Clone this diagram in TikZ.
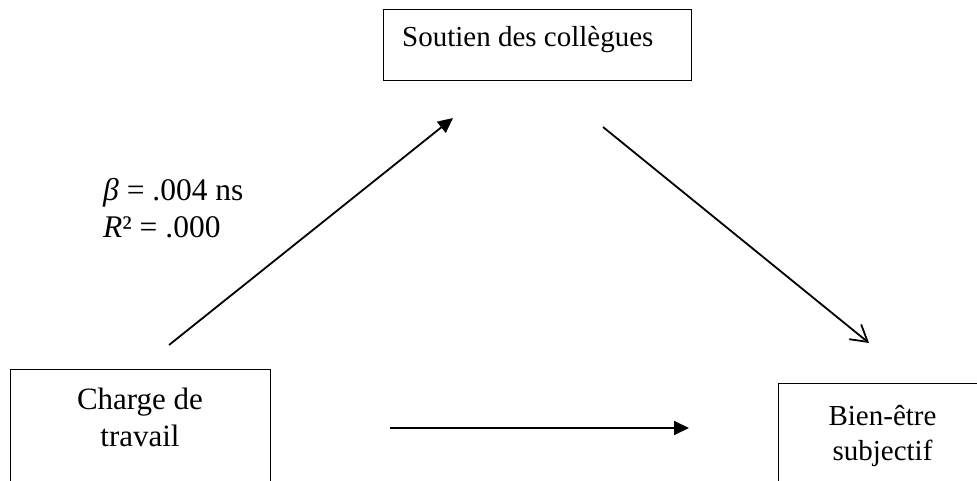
\documentclass[tikz,border=0pt]{standalone}
\usepackage{fontspec}
\setmainfont{Liberation Serif}
\usetikzlibrary{arrows.meta}
\begin{document}
\begin{tikzpicture}[x=1pt,y=-1pt,
  box/.style={draw, line width=1.3pt, rectangle, inner sep=0pt},
  lbl/.style={inner sep=0pt, font=\fontsize{29}{36}\selectfont},
  lblbig/.style={inner sep=0pt, font=\fontsize{31}{37}\selectfont},
  stat/.style={inner sep=0pt, font=\fontsize{31.5}{37}\selectfont},
  conn/.style={line width=1.8pt},
  filled/.style={conn, -{Triangle[length=15pt,width=14pt]}},
  openh/.style={conn, -{Straight Barb[length=16pt,width=19pt]}}]
\useasboundingbox (0,0) rectangle (977,481);
\clip (0,0) rectangle (977,481);
% boxes
\node[box, minimum width=308pt, minimum height=71pt, anchor=north west] (top) at (383,9) {};
\node[box, minimum width=260pt, minimum height=160pt, anchor=north west] (left) at (10,369) {};
\node[box, minimum width=300pt, minimum height=160pt, anchor=north west] (right) at (778,383) {};
% texts
\node[lbl, anchor=base west] (toptxt) at (402,47) {Soutien des collègues};
\node[lblbig, anchor=base] (lefttxt1) at (140,409) {Charge de};
\node[lblbig, anchor=base] (lefttxt2) at (140,446) {travail};
\node[lbl, anchor=base] (righttxt1) at (882.5,425) {Bien-être};
\node[lbl, anchor=base] (righttxt2) at (882.5,460) {subjectif};
\node[stat, anchor=base west] (beta) at (103,201) {{\itshape β} = .004 ns};
\node[stat, anchor=base west] (rsq) at (103,237) {{\itshape R}² = .000};
% connector ends
\coordinate (a1s) at (169,345);
\coordinate (a1e) at (453,118);
\coordinate (a2s) at (603,127);
\coordinate (a2e) at (869,343);
\coordinate (a3s) at (390,428);
\coordinate (a3e) at (689,428);
\draw[filled] (a1s) -- (a1e);
\draw[openh] (a2s) -- (a2e);
\draw[filled] (a3s) -- (a3e);
\end{tikzpicture}
\end{document}
